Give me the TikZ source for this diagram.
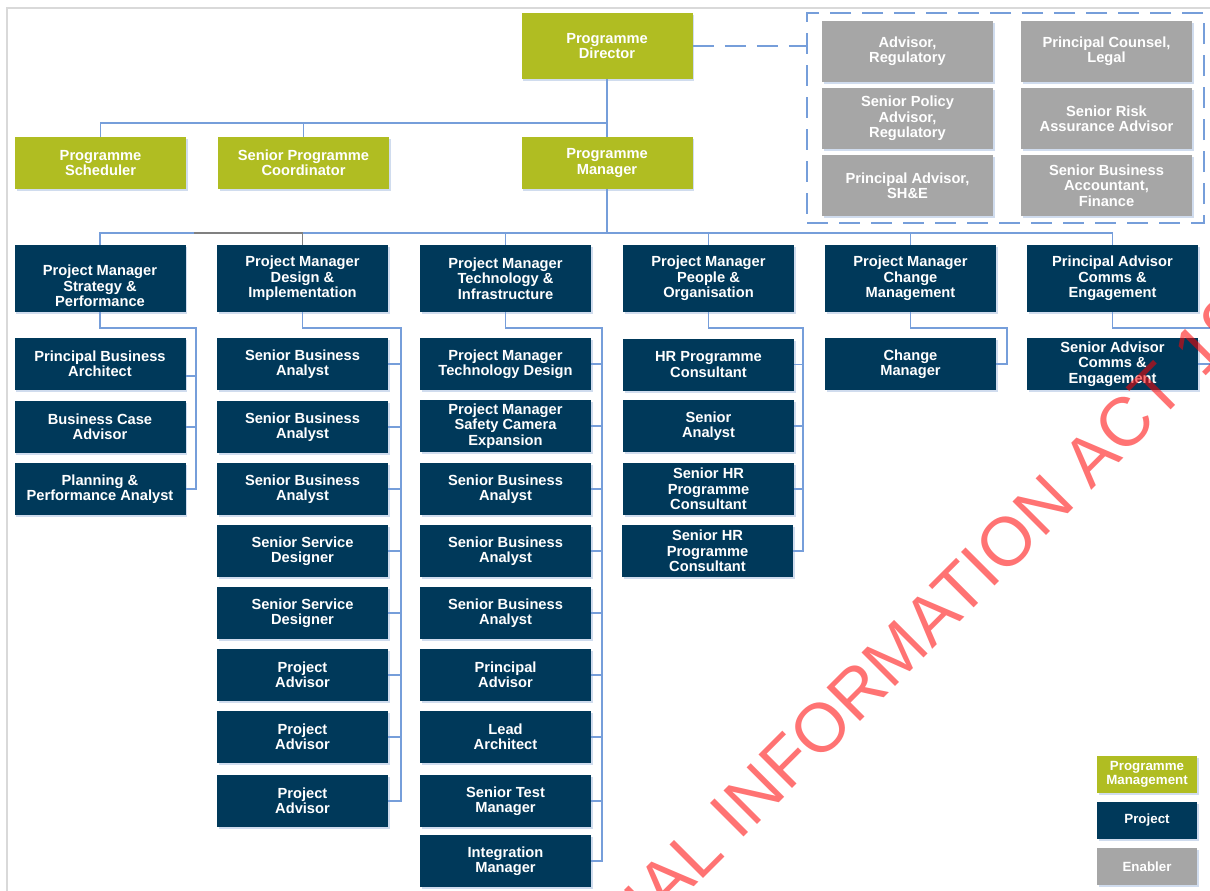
\documentclass[tikz,border=0pt]{standalone}
\usepackage{fontspec}
\setmainfont{Liberation Sans}
\usetikzlibrary{shadows}
\definecolor{pgreen}{RGB}{176,189,34}
\definecolor{pnavy}{RGB}{0,57,90}
\definecolor{pgray}{RGB}{166,166,166}
\definecolor{connc}{RGB}{118,158,218}
\definecolor{shadc}{RGB}{208,220,238}
\definecolor{framec}{RGB}{217,217,217}
\definecolor{gconnc}{RGB}{128,128,128}
\begin{document}
\begin{tikzpicture}[x=0.75pt,y=-0.75pt,
  box/.style={rectangle, inner sep=0pt, minimum width=128.25pt, minimum height=39pt,
    text=white, align=center, font=\bfseries\fontsize{11}{11.5}\selectfont,
    drop shadow={shadow xshift=1.2pt, shadow yshift=-1.5pt, fill=shadc, opacity=1}},
  gbox/.style={box, fill=pgreen},
  nbox/.style={box, fill=pnavy},
  ebox/.style={box, fill=pgray, minimum height=45.75pt},
  pmrow/.style={nbox, minimum height=50.25pt},
  legbox/.style={box, minimum width=75pt, minimum height=27.75pt, font=\bfseries\fontsize{10}{10.5}\selectfont},
  boxtxt/.style={text=white, align=center, inner sep=0pt, font=\bfseries\fontsize{11}{11.5}\selectfont},
  link/.style={draw=connc, line width=1.3pt},
  glink/.style={draw=gconnc, line width=1.3pt},
  dlink/.style={draw=connc, line width=1.1pt, dash pattern=on 16pt off 8pt}
]
\clip (0,0) rectangle (1210,890);
\fill[white] (0,0) rectangle (1210,890);
\draw[framec, line width=1.5pt] (7,8) rectangle (1240,920);

% programme management
\node[gbox, minimum height=49.5pt] (pd) at (607,46) {Programme\\Director};
\node[gbox] (sch) at (100.5,163) {Programme\\Scheduler};
\node[gbox] (crd) at (303.5,163) {Senior Programme\\Coordinator};
\node[gbox] (pm) at (607,163) {Programme\\Manager};

% enablers
\node[rectangle, draw=connc, line width=1.1pt, dash pattern=on 16pt off 8pt,
      minimum width=297.75pt, minimum height=157.5pt, inner sep=0pt] (enab) at (1005.5,118) {};
\node[ebox] (en1) at (907.5,51.5) {Advisor,\\Regulatory};
\node[ebox] (en2) at (1106.5,51.5) {Principal Counsel,\\Legal};
\node[ebox] (en3) at (907.5,118.5) {Senior Policy\\Advisor,\\Regulatory};
\node[ebox] (en4) at (1106.5,118.5) {Senior Risk\\Assurance Advisor};
\node[ebox] (en5) at (907.5,185.5) {Principal Advisor,\\SH\&E};
\node[ebox] (en6) at (1106.5,185.5) {Senior Business\\Accountant,\\Finance};

% project managers
\node[pmrow] (sp) at (100,278.5) {};
\node[boxtxt] at ([yshift=-5.5pt]sp.center) {Project Manager\\Strategy \&\\Performance};
\node[pmrow] (di) at (302.5,278.5) {Project Manager\\Design \&\\Implementation};
\node[pmrow] (ti) at (505.5,278.5) {Project Manager\\Technology \&\\Infrastructure};
\node[pmrow] (po) at (708.5,278.5) {Project Manager\\People \&\\Organisation};
\node[pmrow] (cm) at (910.5,278.5) {Project Manager\\Change\\Management};
\node[pmrow] (pc) at (1112.5,278.5) {Principal Advisor\\Comms \&\\Engagement};

% column 1
\node[nbox] (a1) at (100,364) {Principal Business\\Architect};
\node[nbox] (a2) at (100,427) {Business Case\\Advisor};
\node[nbox] (a3) at (100,489) {Planning \&\\Performance Analyst};

% column 2
\node[nbox] (d1) at (302.5,364) {Senior Business\\Analyst};
\node[nbox] (d2) at (302.5,427) {Senior Business\\Analyst};
\node[nbox] (d3) at (302.5,489) {Senior Business\\Analyst};
\node[nbox] (d4) at (302.5,551) {Senior Service\\Designer};
\node[nbox] (d5) at (302.5,613) {Senior Service\\Designer};
\node[nbox] (d6) at (302.5,675) {Project\\Advisor};
\node[nbox] (d7) at (302.5,737) {Project\\Advisor};
\node[nbox] (d8) at (302.5,801) {Project\\Advisor};

% column 3
\node[nbox] (t1) at (505.5,364) {Project Manager\\Technology Design};
\node[nbox] (t2) at (505.5,426) {Project Manager\\Safety Camera\\Expansion};
\node[nbox] (t3) at (505.5,489) {Senior Business\\Analyst};
\node[nbox] (t4) at (505.5,551) {Senior Business\\Analyst};
\node[nbox] (t5) at (505.5,613) {Senior Business\\Analyst};
\node[nbox] (t6) at (505.5,675) {Principal\\Advisor};
\node[nbox] (t7) at (505.5,737) {Lead\\Architect};
\node[nbox] (t8) at (505.5,801) {Senior Test\\Manager};
\node[nbox] (t9) at (505.5,861) {Integration\\Manager};

% column 4
\node[nbox] (p1) at (708.5,364.5) {HR Programme\\Consultant};
\node[nbox] (p2) at (708.5,426) {Senior\\Analyst};
\node[nbox] (p3) at (708.5,489) {Senior HR\\Programme\\Consultant};
\node[nbox] (p4) at (707.5,551) {Senior HR\\Programme\\Consultant};

% column 5 and 6
\node[nbox] (m1) at (910.5,364) {Change\\Manager};
\node[nbox] (e1) at (1112.5,364) {Senior Advisor\\Comms \&\\Engagement};

% legend
\node[legbox, fill=pgreen] (lg1) at (1147,774.5) {Programme\\Management};
\node[legbox, fill=pnavy] (lg2) at (1147,820.5) {Project};
\node[legbox, fill=pgray] (lg3) at (1147,866.5) {Enabler};

% connectors: top
\coordinate (tb) at (607,123);
\draw[link] (pd.south) -- (pm.north);
\draw[link] (sch.north) |- (tb);
\draw[link] (crd.north) -- (crd.north |- tb);
\draw[dlink] (pd.east) -- (pd.east -| enab.west);

% connectors: project managers
\coordinate (hb) at (607,233);
\coordinate (gs) at (194,233);
\draw[link] (pm.south) -- (hb);
\draw[link] (sp.north) |- (pc.north |- hb) -- (pc.north);
\foreach \n in {ti,po,cm} \draw[link] (\n.north) -- (\n.north |- hb);
\draw[glink] (gs) -- (di.north |- hb) -- (di.north);

% column buses
\coordinate (b1) at (196,328);
\coordinate (b2) at (401,328);
\coordinate (b3) at (602,328);
\coordinate (b4) at (803,328);
\coordinate (b5) at (1007,328);
\coordinate (b6) at (1216,328);
\draw[link] (sp.south) |- (b1) |- (a3.east);
\draw[link] ([yshift=-9pt]a1.east) -- ([yshift=-9pt]a1.east -| b1);
\draw[link] (a2.east) -- (a2.east -| b1);
\draw[link] (di.south) |- (b2) |- (d8.east);
\foreach \n in {d1,d2,d3,d4,d5,d6,d7} \draw[link] (\n.east) -- (\n.east -| b2);
\draw[link] (ti.south) |- (b3) |- (t9.east);
\foreach \n in {t1,t2,t3,t4,t5,t6,t7,t8} \draw[link] (\n.east) -- (\n.east -| b3);
\draw[link] (po.south) |- (b4) |- (p4.east);
\foreach \n in {p1,p2,p3} \draw[link] (\n.east) -- (\n.east -| b4);
\draw[link] (cm.south) |- (b5) |- (m1.east);
\draw[link] (pc.south) |- (b6) |- (e1.east);

% watermark
\node[rotate=45, text=red, text opacity=0.55, inner sep=0pt,
      font=\fontsize{51.7}{52}\selectfont] (wm) at (892,656) {OFFICIAL INFORMATION ACT 1982};
\end{tikzpicture}
\end{document}
